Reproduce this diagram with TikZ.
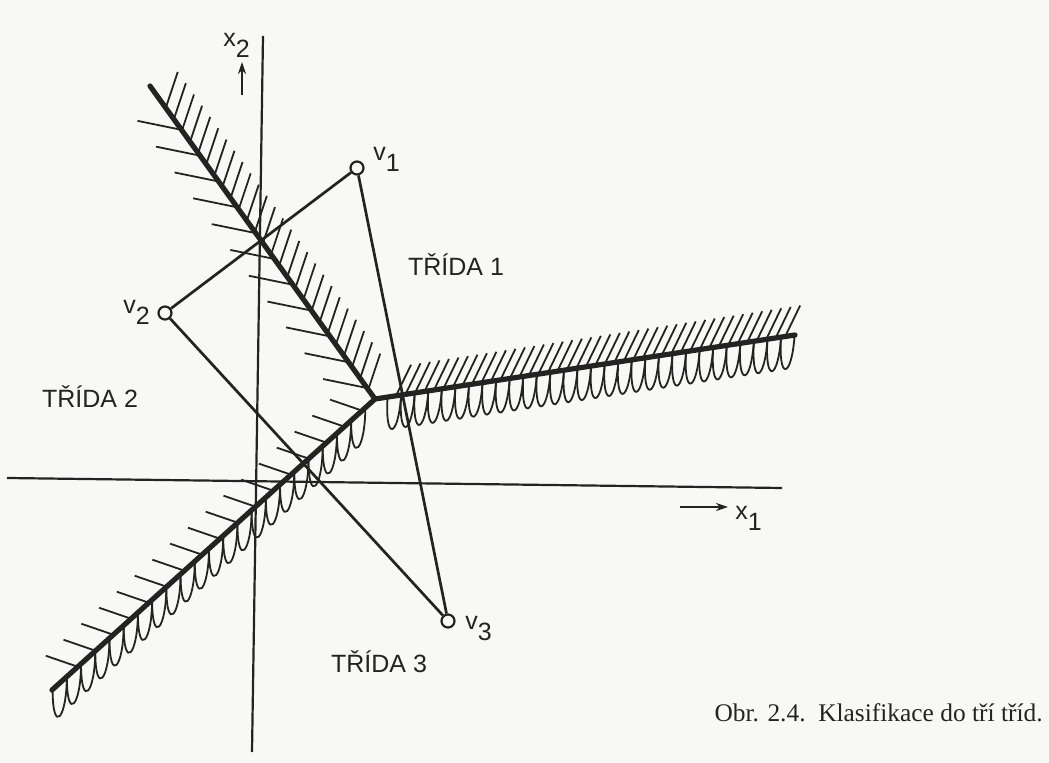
\documentclass[tikz,border=0pt]{standalone}
\usepackage{fontspec}
\setmainfont{Liberation Serif}
\newfontfamily\labelfont{Liberation Sans}
\usetikzlibrary{arrows.meta, calc}
\definecolor{ink}{RGB}{35,35,35}
\definecolor{paper}{RGB}{248,248,246}
\newcommand{\idx}[2]{#1\raisebox{-5.5pt}{#2}}

\begin{document}
\begin{tikzpicture}[
    x=0.5pt, y=-0.5pt,
    axis/.style={ink, line width=1.1pt},
    edge/.style={ink, line width=1.35pt},
    border/.style={ink, line width=2.6pt, line cap=round},
    hatch/.style={ink, line width=0.9pt},
    wave/.style={ink, line width=0.9pt},
    vertex/.style={circle, draw=ink, fill=paper, line width=1.1pt, minimum size=6.5pt, inner sep=0pt},
    tag/.style={font=\labelfont\fontsize{12.5}{14}\selectfont, text=ink, inner sep=0pt},
    dirarrow/.style={ink, line width=0.9pt, -{Stealth[length=6pt,width=4pt]}}
]
\fill[paper] (0,0) rectangle (1049,763);
\useasboundingbox (0,0) rectangle (1049,763);

% axes
\coordinate (x1l) at (7,478);
\coordinate (x1r) at (782,488);
\coordinate (x2b) at (252,752);
\coordinate (x2t) at (263,36);
\draw[axis] (x1l) -- (x1r);
\draw[axis] (x2b) -- (x2t);

% class boundaries
\coordinate (J) at (375,399);
\coordinate (b12) at (150,86);
\coordinate (b13) at (795,335);
\coordinate (b23) at (52,690);

\foreach \t in {0.03,0.066,...,0.93}
    \draw[hatch] ($(J)!\t!(b12)$) -- ++(12,-36);
\foreach \t in {0.035,0.1175,...,0.91}
    \draw[hatch] ($(J)!\t!(b12)$) -- ++(-44,-9);
\foreach \t in {0.05,0.0726,...,0.985}
    \draw[hatch] ($(J)!\t!(b13)$) -- ++(15,-31);
\foreach \t in {0.04,0.095,...,0.97}
    \draw[hatch] ($(J)!\t!(b23)$) -- ++(-32,-11);

\foreach \k [evaluate=\k as \ta using 0.03+\k*0.0323,
             evaluate=\k as \tb using 0.03+(\k+1)*0.0323] in {0,...,29}
    \draw[wave] ($(J)!\ta!(b13)$) .. controls +(-3,44) and +(-3,44) .. ($(J)!\tb!(b13)$);
\foreach \k [evaluate=\k as \ta using 0.03+\k*0.044,
             evaluate=\k as \tb using 0.03+(\k+1)*0.044] in {0,...,21}
    \draw[wave] ($(J)!\ta!(b23)$) .. controls +(0,42) and +(0,46) .. ($(J)!\tb!(b23)$);

\draw[border] (b12) -- (J) -- (b13);
\draw[border] (J) -- (b23);

% prototypes
\node[vertex] (v1) at (357,168) {};
\node[vertex] (v2) at (165,313) {};
\node[vertex] (v3) at (448,621) {};
\draw[edge] (v1) -- (v2);
\draw[edge] (v2) -- (v3);
\draw[edge] (v1) -- (v3);

\node[tag, anchor=base west] (lv1) at (373,161) {\idx{v}{1}};
\node[tag, anchor=base west] (lv2) at (123,314) {\idx{v}{2}};
\node[tag, anchor=base west] (lv3) at (465,630) {\idx{v}{3}};

\coordinate (a1s) at (680,507);
\coordinate (a1e) at (728,507);
\coordinate (a2s) at (242,95);
\coordinate (a2e) at (242,62);
\draw[dirarrow] (a1s) -- (a1e);
\draw[dirarrow] (a2s) -- (a2e);
\node[tag, anchor=base west] (lx1) at (735,520) {\idx{x}{1}};
\node[tag, anchor=base west] (lx2) at (223,47) {\idx{x}{2}};

\node[tag, anchor=base] (c1) at (456,276) {TŘÍDA 1};
\node[tag, anchor=base] (c2) at (90,408) {TŘÍDA 2};
\node[tag, anchor=base] (c3) at (379,673) {TŘÍDA 3};

\node[anchor=base east, inner sep=0pt, text=ink, font=\fontsize{12.7}{15}\selectfont] (cap)
    at (1043,721) {Obr. 2.4.\ \ Klasifikace do tří tříd.};
\end{tikzpicture}
\end{document}
